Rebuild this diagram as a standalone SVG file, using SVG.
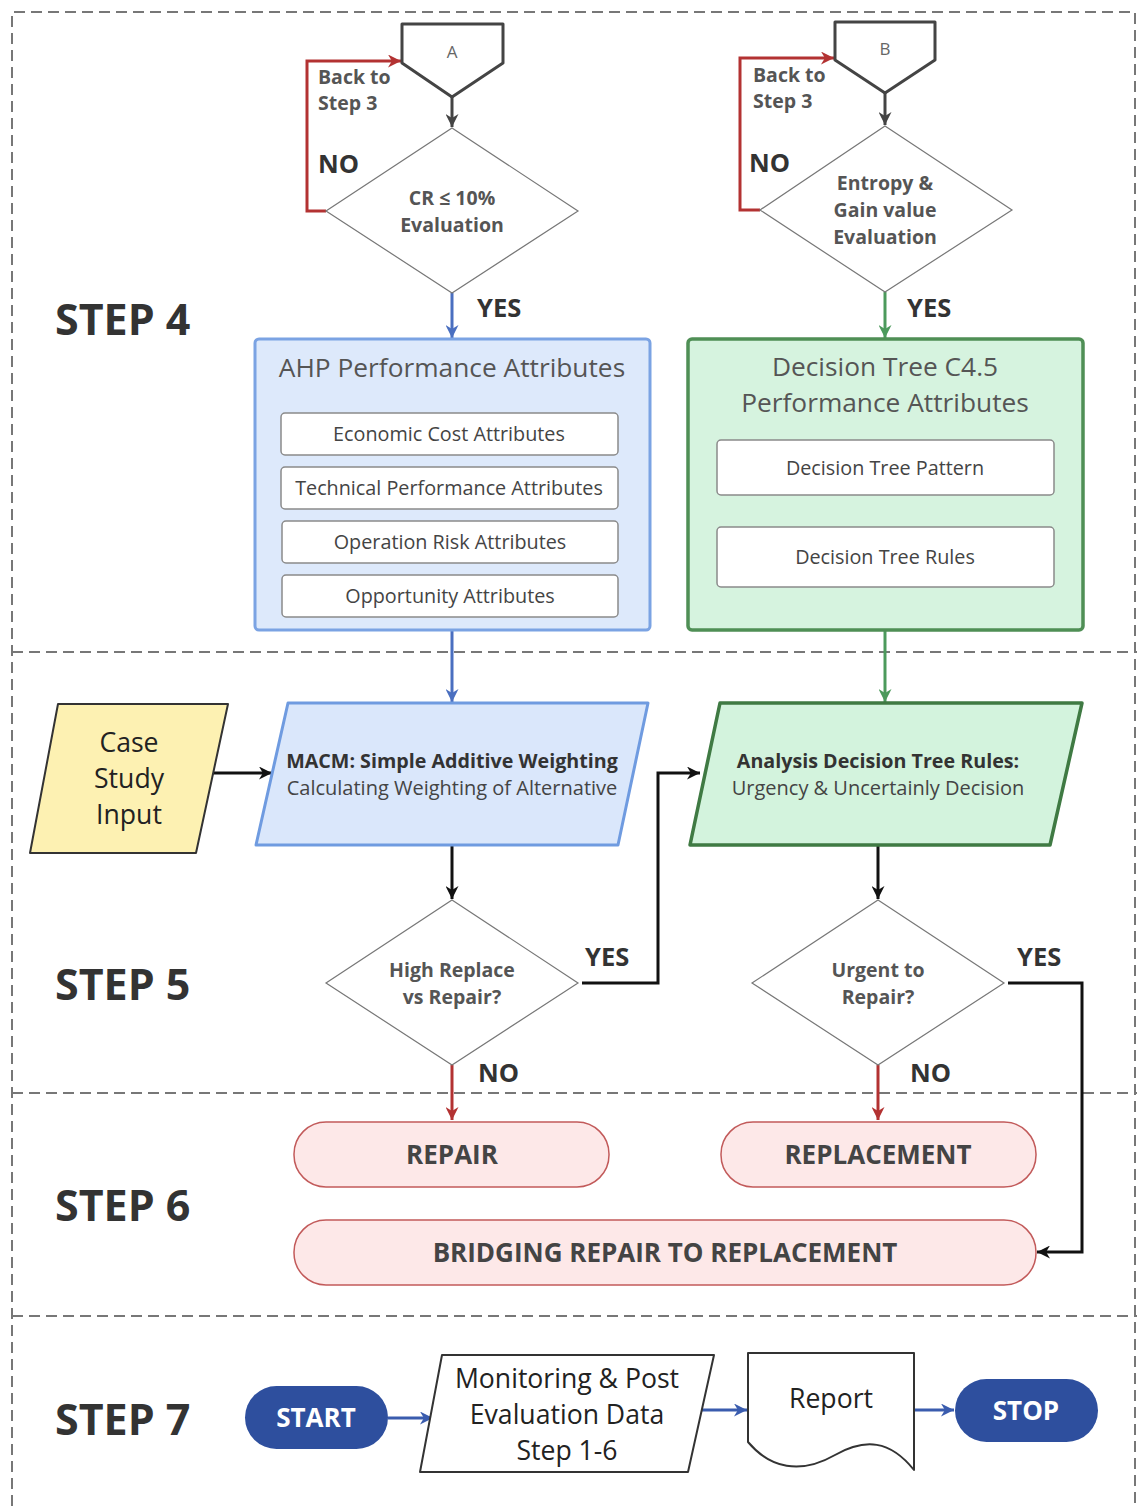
<svg xmlns="http://www.w3.org/2000/svg" width="1137" height="1506" viewBox="0 0 1137 1506">
  <defs>
    <style>
      text { font-family: "Open Sans", "Noto Sans", "Liberation Sans", sans-serif; text-anchor: middle; }
      .step { font-size: 43px; font-weight: 700; fill: #333; text-anchor: start; }
      .yn { font-size: 25.5px; font-weight: 700; fill: #333; text-anchor: start; }
      .back { font-size: 19.5px; font-weight: 700; fill: #555; text-anchor: start; }
      .dtext { font-size: 19.5px; font-weight: 700; fill: #555; }
      .title { font-size: 26.3px; fill: #555; }
      .item { font-size: 19.8px; fill: #444; }
      .inner { fill: #fff; stroke: #8a8a8a; stroke-width: 1.5; }
      .diamond { fill: #fff; stroke: #777; stroke-width: 1.2; }
      .offpage { fill: #fff; stroke: #444; stroke-width: 3; stroke-linejoin: round; }
      .sep { fill: none; stroke: #777; stroke-width: 2; stroke-dasharray: 11 6; }
      .pill { fill: #fde8e8; stroke: #c25a5a; stroke-width: 1.5; }
      .pilltext { font-size: 26px; font-weight: 700; fill: #444; }
      .term { fill: #2e4f9e; }
      .termtext { font-size: 26px; font-weight: 700; fill: #fff; }
      .big { font-size: 26.6px; fill: #222; }
      .c { fill: none; stroke-width: 3; }
    </style>
    <marker id="ahDark" viewBox="0 0 10 10" refX="10" refY="5" markerWidth="13" markerHeight="13" markerUnits="userSpaceOnUse" orient="auto"><path d="M0,0 L10,5 L0,10 L3,5 z" fill="#444"/></marker>
    <marker id="ahBlack" viewBox="0 0 10 10" refX="10" refY="5" markerWidth="13" markerHeight="13" markerUnits="userSpaceOnUse" orient="auto"><path d="M0,0 L10,5 L0,10 L3,5 z" fill="#111"/></marker>
    <marker id="ahRed" viewBox="0 0 10 10" refX="10" refY="5" markerWidth="13" markerHeight="13" markerUnits="userSpaceOnUse" orient="auto"><path d="M0,0 L10,5 L0,10 L3,5 z" fill="#b33232"/></marker>
    <marker id="ahBlue" viewBox="0 0 10 10" refX="10" refY="5" markerWidth="13" markerHeight="13" markerUnits="userSpaceOnUse" orient="auto"><path d="M0,0 L10,5 L0,10 L3,5 z" fill="#4a6fc0"/></marker>
    <marker id="ahGreen" viewBox="0 0 10 10" refX="10" refY="5" markerWidth="13" markerHeight="13" markerUnits="userSpaceOnUse" orient="auto"><path d="M0,0 L10,5 L0,10 L3,5 z" fill="#4c9a5c"/></marker>
    <marker id="ahNavy" viewBox="0 0 10 10" refX="10" refY="5" markerWidth="13" markerHeight="13" markerUnits="userSpaceOnUse" orient="auto"><path d="M0,0 L10,5 L0,10 L3,5 z" fill="#3a5cae"/></marker>
  </defs>

  <rect width="1137" height="1506" fill="#fff"/>

  <!-- swimlane frame and step separators -->
  <g id="lanes">
    <path class="sep" d="M12,1506 V12 H1135 V1506"/>
    <path class="sep" d="M12,652 H1137"/>
    <path class="sep" d="M12,1093 H1137"/>
    <path class="sep" d="M12,1316 H1137"/>
    <text class="step" x="55" y="335">STEP 4</text>
    <text class="step" x="55" y="1000">STEP 5</text>
    <text class="step" x="55" y="1221">STEP 6</text>
    <text class="step" x="55" y="1435">STEP 7</text>
  </g>

  <!-- connectors -->
  <g id="connectors">
    <path class="c" stroke="#444" d="M452,97 V127" marker-end="url(#ahDark)"/>
    <path class="c" stroke="#b33232" d="M326,211 H307 V61 H401" marker-end="url(#ahRed)"/>
    <path class="c" stroke="#4a6fc0" d="M452,293 V338" marker-end="url(#ahBlue)"/>
    <path class="c" stroke="#444" d="M885,93 V125" marker-end="url(#ahDark)"/>
    <path class="c" stroke="#b33232" d="M760,210 H740 V58 H834" marker-end="url(#ahRed)"/>
    <path class="c" stroke="#4c9a5c" d="M885,292 V338" marker-end="url(#ahGreen)"/>
    <path class="c" stroke="#444" d="M885,495 V525" marker-end="url(#ahDark)"/>
    <path class="c" stroke="#4a6fc0" d="M452,630 V702" marker-end="url(#ahBlue)"/>
    <path class="c" stroke="#4c9a5c" d="M885,630 V702" marker-end="url(#ahGreen)"/>
    <path class="c" stroke="#111" d="M213,773 H272" marker-end="url(#ahBlack)"/>
    <path class="c" stroke="#111" d="M452,845 V899" marker-end="url(#ahBlack)"/>
    <path class="c" stroke="#111" d="M878,845 V899" marker-end="url(#ahBlack)"/>
    <path class="c" stroke="#111" d="M582,983 H658 V773 H700" marker-end="url(#ahBlack)"/>
    <path class="c" stroke="#111" d="M1008,983 H1082 V1252 H1037" marker-end="url(#ahBlack)"/>
    <path class="c" stroke="#b33232" d="M452,1065 V1120" marker-end="url(#ahRed)"/>
    <path class="c" stroke="#b33232" d="M878,1065 V1120" marker-end="url(#ahRed)"/>
    <path class="c" stroke="#3a5cae" d="M388,1418 H433" marker-end="url(#ahNavy)"/>
    <path class="c" stroke="#3a5cae" d="M700,1410 H747" marker-end="url(#ahNavy)"/>
    <path class="c" stroke="#3a5cae" d="M914,1410 H954" marker-end="url(#ahNavy)"/>
  </g>

  <!-- edge labels -->
  <g id="edge-labels">
    <text class="back" x="318" y="84">Back to</text>
    <text class="back" x="318" y="110">Step 3</text>
    <text class="yn" x="318" y="173">NO</text>
    <text class="back" x="753" y="82">Back to</text>
    <text class="back" x="753" y="108">Step 3</text>
    <text class="yn" x="749" y="172">NO</text>
    <text class="yn" x="477" y="317">YES</text>
    <text class="yn" x="907" y="317">YES</text>
    <text class="yn" x="585" y="966">YES</text>
    <text class="yn" x="1017" y="966">YES</text>
    <text class="yn" x="478" y="1082">NO</text>
    <text class="yn" x="910" y="1082">NO</text>
  </g>

  <!-- STEP 4 -->
  <g id="connector-a">
    <path class="offpage" d="M402,24 H503 V63 L452,97 L402,63 Z"/>
    <text x="452" y="58" font-size="17" fill="#666">A</text>
  </g>
  <g id="cr-evaluation">
    <path class="diamond" d="M452,128 L578,211 L452,293 L326,211 Z"/>
    <text class="dtext" x="452" y="205">CR ≤ 10%</text>
    <text class="dtext" x="452" y="232">Evaluation</text>
  </g>
  <g id="connector-b">
    <path class="offpage" d="M835,22 H935 V60 L885,93 L835,60 Z"/>
    <text x="885" y="55" font-size="17" fill="#666">B</text>
  </g>
  <g id="entropy-evaluation">
    <path class="diamond" d="M885,126 L1012,210 L885,292 L760,210 Z"/>
    <text class="dtext" x="885" y="190">Entropy &amp;</text>
    <text class="dtext" x="885" y="217">Gain value</text>
    <text class="dtext" x="885" y="244">Evaluation</text>
  </g>

  <g id="ahp-attributes">
    <rect x="255" y="339" width="395" height="291" rx="4" fill="#dde9fb" stroke="#7ba3e3" stroke-width="3"/>
    <text class="title" x="452" y="377">AHP Performance Attributes</text>
    <rect class="inner" x="281" y="413" width="337" height="42" rx="4"/>
    <text class="item" x="449" y="441">Economic Cost Attributes</text>
    <rect class="inner" x="281" y="467" width="337" height="42" rx="4"/>
    <text class="item" x="449" y="495">Technical Performance Attributes</text>
    <rect class="inner" x="282" y="521" width="336" height="42" rx="4"/>
    <text class="item" x="450" y="549">Operation Risk Attributes</text>
    <rect class="inner" x="282" y="575" width="336" height="42" rx="4"/>
    <text class="item" x="450" y="603">Opportunity Attributes</text>
  </g>

  <g id="dt-attributes">
    <rect x="688" y="339" width="395" height="291" rx="4" fill="#d6f3df" stroke="#4f8f55" stroke-width="3.5"/>
    <text class="title" x="885" y="376">Decision Tree C4.5</text>
    <text class="title" x="885" y="412">Performance Attributes</text>
    <rect class="inner" x="717" y="440" width="337" height="55" rx="4"/>
    <text class="item" x="885" y="475">Decision Tree Pattern</text>
    <rect class="inner" x="717" y="527" width="337" height="60" rx="4"/>
    <text class="item" x="885" y="564">Decision Tree Rules</text>
  </g>

  <!-- STEP 5 -->
  <g id="case-study-input">
    <path d="M58,704 H228 L196,853 H30 Z" fill="#fdf1b2" stroke="#333" stroke-width="2" stroke-linejoin="round"/>
    <text class="big" x="129" y="752">Case</text>
    <text class="big" x="129" y="788">Study</text>
    <text class="big" x="129" y="824">Input</text>
  </g>
  <g id="macm-saw">
    <path d="M288,703 H648 L618,845 H256 Z" fill="#dae7fb" stroke="#6f9be0" stroke-width="3" stroke-linejoin="round"/>
    <text x="452" y="768" font-size="19.7" font-weight="700" fill="#333">MACM: Simple Additive Weighting</text>
    <text x="452" y="795" font-size="20" fill="#444">Calculating Weighting of Alternative</text>
  </g>
  <g id="dt-rules-analysis">
    <path d="M720,703 H1082 L1050,845 H690 Z" fill="#d3f3dd" stroke="#3f7a43" stroke-width="3.5" stroke-linejoin="round"/>
    <text x="878" y="768" font-size="19.7" font-weight="700" fill="#333">Analysis Decision Tree Rules:</text>
    <text x="878" y="795" font-size="20" fill="#444">Urgency &amp; Uncertainly Decision</text>
  </g>
  <g id="replace-vs-repair">
    <path class="diamond" d="M452,900 L578,983 L452,1065 L326,983 Z"/>
    <text class="dtext" x="452" y="977">High Replace</text>
    <text class="dtext" x="452" y="1004">vs Repair?</text>
  </g>
  <g id="urgent-to-repair">
    <path class="diamond" d="M878,900 L1004,983 L878,1065 L752,983 Z"/>
    <text class="dtext" x="878" y="977">Urgent to</text>
    <text class="dtext" x="878" y="1004">Repair?</text>
  </g>

  <!-- STEP 6 -->
  <g id="repair">
    <rect class="pill" x="294" y="1122" width="315" height="65" rx="32"/>
    <text class="pilltext" x="452" y="1164">REPAIR</text>
  </g>
  <g id="replacement">
    <rect class="pill" x="721" y="1122" width="315" height="65" rx="32"/>
    <text class="pilltext" x="878" y="1164">REPLACEMENT</text>
  </g>
  <g id="bridging">
    <rect class="pill" x="294" y="1220" width="742" height="65" rx="32"/>
    <text class="pilltext" x="665" y="1262">BRIDGING REPAIR TO REPLACEMENT</text>
  </g>

  <!-- STEP 7 -->
  <g id="start">
    <rect class="term" x="245" y="1386" width="143" height="63" rx="31.5"/>
    <text class="termtext" x="316" y="1427">START</text>
  </g>
  <g id="monitoring-data">
    <path d="M442,1355 H714 L688,1472 H420 Z" fill="#fff" stroke="#333" stroke-width="2" stroke-linejoin="round"/>
    <text class="big" x="567" y="1388">Monitoring &amp; Post</text>
    <text class="big" x="567" y="1424">Evaluation Data</text>
    <text class="big" x="567" y="1460">Step 1-6</text>
  </g>
  <g id="report">
    <path d="M748,1353 H914 V1470 C890,1440 865,1438 835,1455 C800,1475 770,1468 748,1442 Z" fill="#fff" stroke="#333" stroke-width="2" stroke-linejoin="round"/>
    <text class="big" x="831" y="1408">Report</text>
  </g>
  <g id="stop">
    <rect class="term" x="955" y="1379" width="143" height="63" rx="31.5"/>
    <text class="termtext" x="1026" y="1420">STOP</text>
  </g>
</svg>
